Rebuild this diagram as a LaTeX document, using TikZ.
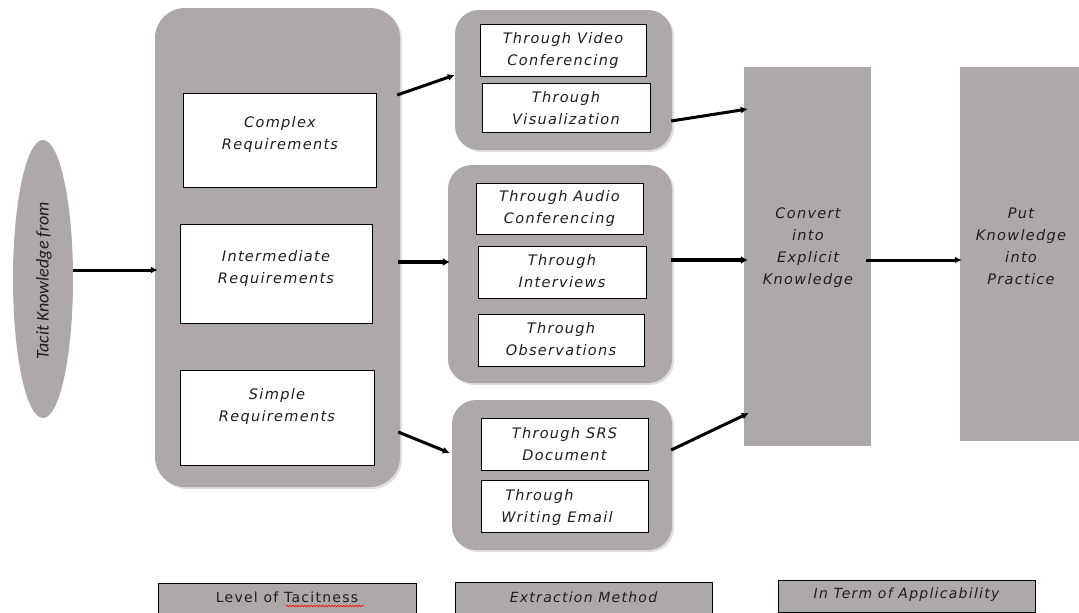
\documentclass[tikz,border=0pt]{standalone}
\usepackage{fontspec}
\newfontfamily\vfont[LetterSpace=9]{DejaVu Sans}
\newfontfamily\cfont{Carlito}
\usetikzlibrary{arrows.meta,shadows,calc,decorations.pathmorphing,shapes.geometric}
\definecolor{boxgray}{RGB}{173,169,168}
\definecolor{ink}{RGB}{30,30,30}
\tikzset{
  grp/.style={fill=boxgray,draw=none,rounded corners=24pt,drop shadow={opacity=0.25,shadow xshift=2pt,shadow yshift=-2pt}},
  wbox/.style={fill=white,draw=black,line width=0.9pt,inner sep=0pt},
  bigbar/.style={fill=boxgray,draw=none,inner sep=0pt},
  lbl/.style={align=center,inner sep=0pt,text=ink,font=\vfont\itshape\fontsize{14.5}{22}\selectfont},
  foot/.style={fill=boxgray,draw=black,line width=1pt,inner sep=0pt},
  conn/.style={line width=3pt,-{Latex[length=7pt,width=7pt]}},
  connb/.style={line width=4pt,-{Latex[length=7pt,width=8pt]}},
}
\begin{document}
\begin{tikzpicture}[x=1pt,y=-1pt]
\clip (0,0) rectangle (1079,613);
\fill[white] (0,0) rectangle (1079,613);

% left ellipse
\node[ellipse,fill=boxgray,minimum width=60,minimum height=278,inner sep=0pt] (tacit) at (43,279) {};
\node[rotate=90,inner sep=0pt,font=\cfont\itshape\fontsize{18}{20}\selectfont,text=ink] (tacitT) at (44,281) {Tacit Knowledge from};

% level of tacitness column
\node[grp,minimum width=245,minimum height=479,inner sep=0pt,rounded corners=30pt] (big) at (277.5,247.5) {};
\node[wbox,minimum width=193,minimum height=94] (complex) at (279.5,140) {};
\node[wbox,minimum width=192,minimum height=99] (inter) at (276,273.5) {};
\node[wbox,minimum width=194,minimum height=95] (simple) at (277,417.5) {};
\node[lbl] (complexT) at (280,134) {Complex\\Requirements};
\node[lbl] (interT) at (276,268) {Intermediate\\Requirements};
\node[lbl] (simpleT) at (277,406) {Simple\\Requirements};

% extraction groups
\node[grp,minimum width=217,minimum height=140,inner sep=0pt] (g1) at (563.5,80) {};
\node[wbox,minimum width=166,minimum height=52] (video) at (563,50) {};
\node[wbox,minimum width=168,minimum height=49] (visual) at (566,107.5) {};
\node[lbl] (videoT) at (563,50) {Through Video\\Conferencing};
\node[lbl] (visualT) at (566,108) {Through\\Visualization};

\node[grp,minimum width=224,minimum height=218,inner sep=0pt] (g2) at (560,274) {};
\node[wbox,minimum width=167,minimum height=51] (audio) at (559.5,208.5) {};
\node[wbox,minimum width=168,minimum height=52] (interv) at (562,272) {};
\node[wbox,minimum width=166,minimum height=52] (obs) at (561,340) {};
\node[lbl] (audioT) at (559.5,208.5) {Through Audio\\Conferencing};
\node[lbl] (intervT) at (562,271) {Through\\Interviews};
\node[lbl] (obsT) at (561,339) {Through\\Observations};

\node[grp,minimum width=220,minimum height=150,inner sep=0pt] (g3) at (562,475) {};
\node[wbox,minimum width=167,minimum height=52] (srs) at (564.5,444) {};
\node[wbox,minimum width=167,minimum height=52] (email) at (564.5,506) {};
\node[lbl] (srsT) at (564.5,444) {Through SRS\\Document};
\node[lbl,align=left] (emailT) at (557,507) {\hspace*{4pt}Through\\Writing Email};

% applicability bars
\node[bigbar,minimum width=127,minimum height=379] (convert) at (807.5,256.5) {};
\node[lbl] (convertT) at (808,248) {Convert\\into\\Explicit\\Knowledge};
\node[bigbar,minimum width=119,minimum height=374] (put) at (1019.5,254) {};
\node[lbl] (putT) at (1021,246) {Put\\Knowledge\\into\\Practice};

% connectors
\draw[conn] (tacit.east |- 0,270) -- ([xshift=3pt]big.west |- 0,270);
\draw[conn] ([xshift=-3pt]big.east |- 0,95) -- ([yshift=5pt]g1.west);
\draw[connb] ([xshift=-2pt]big.east |- 0,262) -- ([xshift=2pt]g2.west |- 0,262);
\draw[conn] ([xshift=-2pt]big.east |- 0,432) -- ([xshift=-2pt]g3.west |- 0,453);
\draw[conn] ([xshift=-1pt]g1.east |- 0,121) -- ([xshift=4pt]convert.west |- 0,109);
\draw[connb] ([xshift=-1pt]g2.east |- 0,260) -- ([xshift=4pt]convert.west |- 0,260);
\draw[conn] ([xshift=-1pt]g3.east |- 0,450) -- ([xshift=5pt]convert.west |- 0,413);
\draw[conn] ([xshift=-5pt]convert.east |- 0,260) -- ([xshift=2pt]put.west |- 0,260);

% footer labels
\node[foot,minimum width=258,minimum height=40] (lvl) at (287,603) {};
\node[inner sep=0pt,font=\vfont\fontsize{14}{16}\selectfont,text=ink] (lvlT) at (287,597) {Level of Tacitness};
\draw[red,line width=0.6pt,decorate,decoration={snake,amplitude=0.8pt,segment length=3pt}] (286,606) -- (364,606);
\node[foot,minimum width=257,minimum height=40] (ext) at (583.5,602) {};
\node[lbl,font=\vfont\itshape\fontsize{14}{16}\selectfont] (extT) at (583.5,597) {Extraction Method};
\node[foot,minimum width=257,minimum height=32] (app) at (906.5,596) {};
\node[lbl,font=\vfont\itshape\fontsize{14}{16}\selectfont] (appT) at (906.5,595) {In Term of Applicability};
\end{tikzpicture}
\end{document}
